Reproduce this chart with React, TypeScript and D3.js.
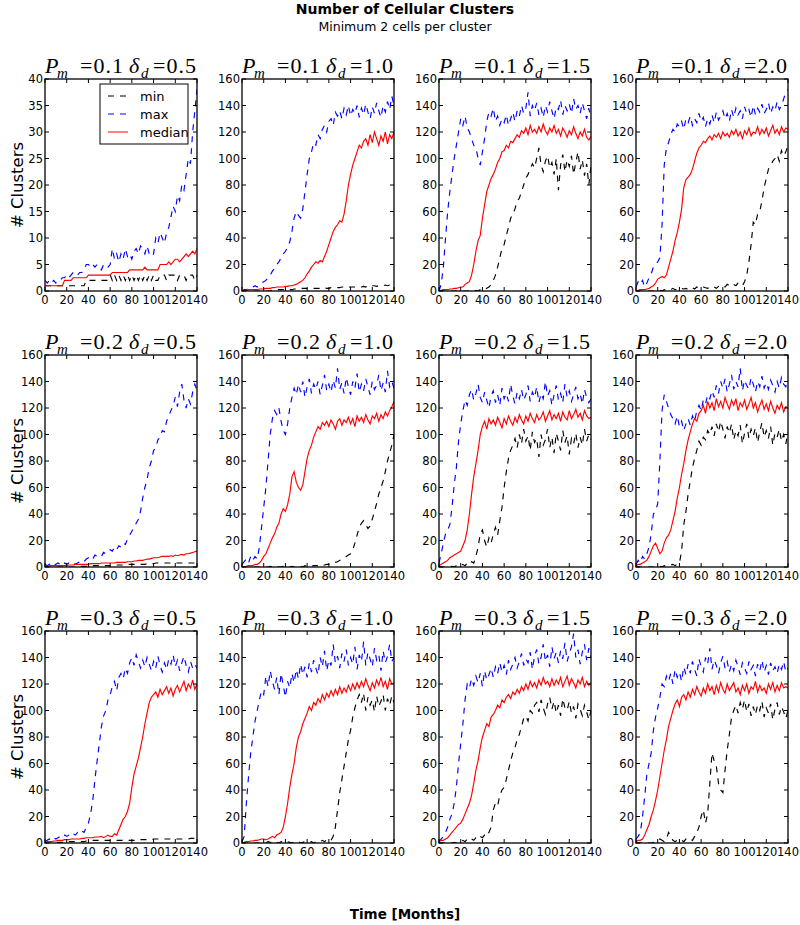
import React from 'react';
import * as d3 from 'd3';

// sampling grid: months 0..140 every 2 months (71 samples)
const months = d3.range(0, 141, 2);

const xTickValues = [0, 20, 40, 60, 80, 100, 120, 140];
const pmLabels = ['0.1', '0.2', '0.3'];
const ddLabels = ['0.5', '1.0', '1.5', '2.0'];
const seriesNames = ['min', 'max', 'median'];

// ---------- P_m = 0.1 ----------
const min_01_05 = [1,1,1,1,1, 1,1,1,1,1, 1,1,1,1,1, 1,1,1,1,2, 2,2,2,2,2, 2,2,2,2,2, 3,2,3,2,3, 2,3,2,3,2, 3,2,3,2,3, 2,3,2,3,2, 3,2,2,3,3, 3,2,3,3,3, 3,2,3,3,3, 2,3,3,3,2, 3];
const max_01_05 = [2,1.5,2,1.5,2, 1.5,2,2,2.5,2.5, 3,2.5,3,3.5,3.5, 3,3.5,3.5,4,5, 5,4.5,5,4.5,5, 4.5,4,5,4.5,4.5, 5,8,6,7,5.5, 7,6,8,6.5,7, 6,7.5,8,7,8.5, 8,7,8.5,7,6.5, 7,10,9,11,10, 9,11,12,14,16, 15,18,17,20,19, 22,25,24,30,34, 38];
const med_01_05 = [1,1,1,1,1, 1,1,1,1,2, 2,2,2,2.5,2.5, 2.5,2.5,2.5,2.5,2.5, 3,3,3,3,3, 3,3,3,3,3, 3,3.5,3.5,3.5,3.5, 3.5,3.5,3.5,3.5,4, 4,4,4,4,4, 4,4.5,4,4,4, 4,4,4,5,5, 5,5,5.5,5,5.5, 6,6,5.5,6,6.5, 7,6.5,7,7.5,7, 8];

const min_01_10 = [0,0,0,0,0, 0,0,0,0,0, 0,0,0,0,0.5, 0.5,1,1,1,1, 1,1,1,1,1.5, 1.5,2,2,2,2, 2,2,2,2,2, 2,2,2,2.5,2, 2,2.5,2.5,2.5,2.5, 2.5,3,3,2.5,3, 3,3,3,3,3, 3,3.5,3,4,3.5, 4,4,3.5,4,4, 4,4.5,4,4.5,5, 5];
const max_01_10 = [0,1,1,2,2, 3,4,3,5,6, 7,8,10,12,15, 17,20,22,25,28, 30,33,37,45,55, 60,57,55,62,75, 88,100,105,112,110, 118,115,122,125,120, 128,130,125,135,132, 136,130,138,133,140, 132,137,134,140,131, 138,133,141,135,130, 139,134,142,136,131, 140,135,143,137,147, 140];
const med_01_10 = [0,0,0.5,1,1, 1,1,1,1.5,1.5, 1.5,2,2,2,2.5, 2.5,3,3,3,3, 3.5,3.5,4,4,4.5, 5,6,7,8,10, 13,15,18,20,22, 21,23,22,26,30, 35,40,45,48,50, 53,52,58,68,80, 88,95,100,105,110, 108,113,115,110,118, 112,120,115,110,117, 113,120,111,118,115, 120];

const min_01_15 = [0,0,0,0,0, 0,0,0,0,0, 0,0,0,0,0, 0,0,0.5,0,1, 0.5,1,2,3,5, 8,12,18,25,32, 35,42,48,55,58, 62,68,70,75,80, 85,88,92,96,93, 100,108,95,90,98, 102,93,97,88,100, 76,95,103,90,99, 94,102,88,97,105, 92,99,87,96,80, 95];
const max_01_15 = [0,5,18,40,60, 75,88,100,110,120, 130,125,132,123,120, 115,110,108,100,95, 105,115,128,135,132, 138,128,132,125,130, 127,133,125,130,135, 128,136,132,140,134, 138,150,132,140,136, 142,133,138,131,140, 135,143,136,130,139, 137,144,133,140,136, 141,134,145,137,140, 134,142,136,130,138, 130];
const med_01_15 = [0,0.5,1,1,1, 1.5,1.5,2,2,2.5, 3,3,5,6,7, 12,20,30,38,42, 55,65,75,80,85, 88,92,97,100,105, 106,110,108,113,112, 115,118,116,121,119, 123,118,125,120,122, 119,124,120,126,121, 118,123,120,125,119, 122,117,123,120,116, 121,118,124,119,115, 120,117,122,116,114, 117];

const min_01_20 = [0,0,0,0,0, 0,0,0,0,0, 0,0.5,0,1,0.5, 1,1,2,1,1.5, 1,2,1.5,2,1, 2,2.5,1.5,3,2, 2,3,2.5,2,3, 2.5,3,2,3.5,3, 4,3,5,4,3.5, 5,4,6,5,4, 7,12,22,35,52, 50,58,60,68,78, 85,92,95,98,100, 103,98,106,102,105, 110];
const max_01_20 = [3,7,5,8,3, 6,10,13,18,20, 22,25,50,95,108, 112,118,122,120,126, 124,128,122,130,127, 132,125,130,127,134, 128,131,124,130,126, 133,127,135,129,132, 136,130,134,128,137, 131,138,133,136,130, 139,134,137,131,140, 133,138,135,141,134, 137,142,134,139,136, 143,137,140,145,150, 152];
const med_01_20 = [0,0.5,1,1,1, 1.5,2,3,4,6, 9,10,11,10,12, 18,24,30,38,44, 52,62,78,84,86, 88,92,98,104,108, 110,113,112,115,117, 114,118,116,119,115, 120,117,119,116,121, 118,122,117,120,115, 121,118,123,117,120, 119,124,118,122,119, 123,117,121,125,119, 122,118,124,120,123, 122];

// ---------- P_m = 0.2 ----------
const min_02_05 = [0,0,0,0,0, 0,0,0,0,0, 0,0,0,0,0, 0,0,0.5,0.5,0.5, 1,1,1,1,1, 1,1,1,1,1, 1,1.5,1.5,1.5,1.5, 1.5,1.5,2,2,2, 2,2,2,2,2, 2,2,2.5,2.5,2.5, 2.5,3,3,3,3, 3,3,3,3,3, 3,3,3,3,3, 3,3,3,3,3, 3];
const max_02_05 = [2,1,2,3,1, 2,3,2,1,3, 2,3,2,3,2, 3,4,3,4,6, 7,8,6,9,8, 9,8,11,10,12, 13,12,15,13,16, 15,18,17,21,24, 27,30,33,36,42, 52,60,66,75,80, 88,90,96,98,103, 102,110,114,118,122, 128,121,132,138,126, 120,127,123,132,138, 133];
const med_02_05 = [0.5,0.5,1,1,1, 1,1,1,1,1, 1,1.5,1.5,1.5,2, 2,2,2,2,2, 2,2.5,2.5,2.5,2.5, 2.5,3,3,3,3, 3,3,3,3.5,3.5, 3.5,3.5,3.5,4,4, 4,4.5,4.5,5,5, 5,5.5,6,6,6.5, 7,7,7,7.5,8, 8,8,8,8.5,8, 9,8.5,9,9.5,9, 10,10,10.5,11,11.5, 12];

const min_02_10 = [0,0,0,0,0, 0,0,0,0,0, 0,0,0,0.5,0, 0,0.5,0,0,0.5, 0,0.5,0,0.5,0, 0.5,0,0.5,0,1, 0.5,1,0.5,1,1, 1,1.5,1,1.5,2, 2,2.5,3,3.5,4, 5,6,7,8,9, 10,13,18,24,30, 33,35,32,29,31, 36,42,48,55,60, 65,72,80,86,92, 100];
const max_02_10 = [2,4,6,3,8, 5,8,6,15,30, 45,60,80,100,112, 118,115,120,110,103, 100,108,120,128,135, 130,138,132,140,128, 136,142,131,138,134, 140,130,137,145,133, 138,132,141,135,150, 134,139,131,143,136, 130,140,135,146,132, 138,133,142,136,130, 140,134,137,145,133, 139,132,148,136,140, 135];
const med_02_10 = [0,0,0.5,1,1, 1,2,2,3,5, 8,10,14,18,22, 25,30,33,40,44, 42,47,55,68,72, 64,60,58,62,72, 82,88,92,98,102, 106,104,109,107,110, 106,111,108,104,110, 112,107,111,109,113, 108,112,106,114,110, 113,109,115,111,108, 114,112,116,110,115, 112,117,114,118,121, 125];

const min_02_15 = [0,0,0,0,0, 0,0.5,0,1,0.5, 1,2,1,3,2, 4,3,8,15,25, 28,20,15,22,18, 25,30,24,35,45, 60,72,82,88,92, 97,90,100,93,104, 95,99,88,102,94, 97,83,100,92,96, 104,90,98,86,101, 95,88,103,94,99, 85,97,93,101,90, 98,92,104,95,100, 96];
const max_02_15 = [3,10,18,25,28, 32,45,62,75,95, 108,118,126,122,130, 134,126,131,138,128, 124,132,126,120,129, 133,124,130,122,135, 127,131,125,138,129, 123,132,127,134,126, 130,137,125,132,128, 136,124,131,127,140, 129,133,122,130,137, 126,131,124,138,128, 133,125,130,136,127, 131,123,134,128,124, 127];
const med_02_15 = [1,2,3,4,5, 7,8,9,10,11, 12,16,20,28,40, 55,68,78,88,100, 106,110,104,112,108, 111,107,113,109,105, 112,108,114,110,107, 113,109,115,111,108, 114,110,116,112,109, 115,111,113,117,110, 114,118,111,115,112, 116,110,117,113,111, 118,112,115,119,113, 116,111,118,114,112, 113];

const min_02_20 = [0,0,0,0,0, 0,0,0,0,0, 0,0.5,0,1,0.5, 1,1.5,2,1,2, 3,12,32,42,55, 65,75,82,88,95, 92,98,96,103,100, 106,99,108,102,110, 104,97,106,101,108, 96,103,99,107,93, 101,108,97,104,99, 105,94,102,109,98, 103,97,106,92,101, 98,104,95,100,93, 102];
const max_02_20 = [2,5,3,8,6, 10,15,25,40,42, 48,80,118,130,125, 120,115,112,108,114, 106,110,103,108,112, 107,114,110,118,122, 118,126,123,130,127, 133,128,137,131,140, 135,142,132,138,145, 134,140,136,150,133, 141,137,134,143,138, 132,140,136,144,135, 139,134,141,137,132, 140,135,143,138,136, 141];
const med_02_20 = [1,2,2,3,4, 5,8,12,16,18, 14,10,12,18,22, 24,28,35,42,52, 60,70,78,88,96, 102,108,112,110,116, 118,122,116,125,120, 124,118,127,121,125, 120,128,123,119,126, 122,127,118,124,121, 126,119,123,128,120, 124,117,122,126,119, 123,118,125,120,116, 122,119,124,117,121, 120];

// ---------- P_m = 0.3 ----------
const min_03_05 = [0,0,0,0,0, 0,0.5,0.5,0.5,1, 1,1,1,1,1, 1,1,1,1,1.5, 2,2,2,2,2, 2,2,2,2,2, 2,2,2,2,2, 2,2,2,2,2, 2,2,2,2,2.5, 2.5,2.5,2.5,2.5,2.5, 3,3,3,3,3, 3,3,3,3,3, 3,3,3,3,3, 3,3,3.5,3.5,3.5, 4];
const max_03_05 = [1,2,3,2,4, 3,4,5,4,6, 5,6,5,7,6, 8,7,9,8,12, 15,22,32,48,62, 75,88,96,100,108, 112,118,122,115,125, 128,124,132,128,136, 140,134,142,137,132, 138,133,140,135,130, 137,132,141,134,129, 136,131,139,135,142, 133,138,130,136,141, 134,129,137,132,135, 132];
const med_03_05 = [0,1,1,1,1.5, 1.5,2,2,2,2.5, 2.5,2.5,3,3,3, 3,3,3.5,3.5,4, 4,4,4,4.5,4.5, 4.5,5,4,5,6, 5,5,7,6,10, 14,18,20,24,30, 42,52,58,64,72, 80,90,98,106,110, 112,114,110,116,112, 115,118,113,117,111, 116,119,114,118,122, 115,120,117,123,116, 120];

const min_03_10 = [0,0,0,0,0, 0,0,0,0,0, 0.5,0,1,0.5,0, 1,0.5,0,1,0.5, 0,1,0.5,0,1, 0.5,1,0,0.5,1, 1,0.5,1,0,1, 1.5,1,2,1,2.5, 3,2,5,12,25, 38,48,58,68,78, 85,95,102,108,112, 106,113,100,110,104, 108,99,111,103,107, 112,100,109,104,111, 106];
const max_03_10 = [1,5,30,50,68, 80,92,100,108,115, 112,126,118,130,122, 116,125,112,128,119, 110,122,117,128,121, 131,124,135,127,133, 125,136,129,138,132, 127,140,133,145,130, 138,134,150,136,141, 132,143,137,146,134, 140,135,148,131,142, 137,152,134,144,139, 133,147,138,142,130, 145,136,141,150,137, 140];
const med_03_10 = [0,0.5,1,1,1.5, 1.5,2,2,2.5,3, 3,2.5,3,4,5, 4,6,7,8,12, 20,30,42,52,60, 72,80,84,90,94, 98,103,100,106,104, 109,106,112,108,113, 110,115,111,116,112, 118,113,117,114,119, 115,120,116,121,117, 122,118,124,119,115, 121,117,123,119,125, 118,122,116,124,120, 121];

const min_03_15 = [0,0,0,0,0, 0,0,0.5,0,1, 1,2,1,3,2, 3,2,4,3,5, 4,6,5,8,12, 25,30,28,36,40, 42,48,55,62,68, 72,78,82,88,94, 96,92,100,98,104, 106,99,108,102,97, 105,110,101,107,98, 104,96,109,102,100, 107,98,103,94,105, 101,96,104,99,93, 100];
const max_03_15 = [1,3,5,8,12, 18,22,30,42,60, 75,90,108,120,117, 124,119,126,121,128, 118,130,123,127,132, 125,133,128,136,129, 134,127,138,131,135, 140,132,137,143,134, 139,136,144,131,141, 146,135,140,150,137, 142,133,148,139,144, 136,145,139,151,137, 143,148,158,140,146, 135,144,150,138,147, 140];
const med_03_15 = [1,2,2,3,4, 6,8,10,12,14, 15,18,22,26,30, 36,45,55,62,72, 80,85,90,88,95, 97,100,104,102,108, 106,110,112,109,114, 112,116,113,118,115, 120,116,122,118,121, 117,123,119,125,120, 122,118,124,119,123, 120,125,118,122,126, 119,124,121,117,123, 120,125,118,122,119, 121];

const min_03_20 = [0,0,0,0,0, 0,0,0,0.5,1, 2,3,2,1,3, 8,5,2,1,2, 1,2,1,3,2, 3,2,5,8,12, 20,25,15,22,45, 68,62,58,45,40, 38,55,70,82,95, 100,104,98,106,101, 108,99,105,96,103, 97,104,100,107,95, 102,98,105,93,101, 106,97,103,99,94, 100];
const max_03_20 = [3,5,8,20,35, 52,60,68,85,95, 102,110,120,118,126, 122,128,120,131,125, 129,122,133,127,135, 128,137,131,126,139, 133,129,140,135,147, 131,138,134,128,136, 141,132,137,129,135, 130,138,133,127,136, 132,128,137,131,134, 126,135,130,138,129, 134,127,136,130,133, 128,135,131,137,129, 132];
const med_03_20 = [1,2,2,3,6, 10,14,20,25,32, 40,50,60,70,78, 88,94,100,105,108, 103,110,112,108,114, 110,116,112,118,114, 111,117,113,120,115, 118,112,119,114,121, 116,113,120,115,118, 121,114,117,112,119, 115,120,113,118,116, 122,114,119,115,117, 113,120,116,121,114, 119,115,121,117,118, 117];

const minSeries = [
  [min_01_05, min_01_10, min_01_15, min_01_20],
  [min_02_05, min_02_10, min_02_15, min_02_20],
  [min_03_05, min_03_10, min_03_15, min_03_20],
];
const maxSeries = [
  [max_01_05, max_01_10, max_01_15, max_01_20],
  [max_02_05, max_02_10, max_02_15, max_02_20],
  [max_03_05, max_03_10, max_03_15, max_03_20],
];
const medSeries = [
  [med_01_05, med_01_10, med_01_15, med_01_20],
  [med_02_05, med_02_10, med_02_15, med_02_20],
  [med_03_05, med_03_10, med_03_15, med_03_20],
];
const yMaxes = [
  [40, 160, 160, 160],
  [160, 160, 160, 160],
  [160, 160, 160, 160],
];

// ---------- layout ----------
const COL_LEFT = [45, 242, 439, 636];
const ROW_TOP = [79, 355, 631];
const PW = 152;
const PH = 212;
const SANS = 'DejaVu Sans, sans-serif';
const SERIF = 'Liberation Serif, DejaVu Serif, serif';

const STYLES: Record<string, { color: string; dash?: string }> = {
  min: { color: '#000000', dash: '6,6' },
  max: { color: '#0000ff', dash: '6,6' },
  median: { color: '#ff0000' },
};

function Panel({ r, c }: { r: number; c: number }) {
  const left = COL_LEFT[c];
  const top = ROW_TOP[r];
  const x = d3.scaleLinear().domain([0, 140]).range([left, left + PW]);
  const y = d3.scaleLinear().domain([0, yMaxes[r][c]]).range([top + PH, top]);
  const line = d3
    .line<number>()
    .x((_, i) => x(months[i]))
    .y((d) => y(d));
  const yTicks = y.ticks(8);
  const clipId = `clip-${r}-${c}`;
  const data: Record<string, number[]> = {
    min: minSeries[r][c],
    max: maxSeries[r][c],
    median: medSeries[r][c],
  };
  const ty = top - 6;
  return (
    <g>
      <defs>
        <clipPath id={clipId}>
          <rect x={left} y={top} width={PW} height={PH} />
        </clipPath>
      </defs>
      <g clipPath={`url(#${clipId})`}>
        {seriesNames.map((s) => (
          <path
            key={s}
            d={line(data[s]) || ''}
            fill="none"
            stroke={STYLES[s].color}
            strokeWidth={1.15}
            strokeDasharray={STYLES[s].dash}
          />
        ))}
      </g>
      {xTickValues.map((t) => (
        <g key={'x' + t}>
          <line x1={x(t)} x2={x(t)} y1={top + PH} y2={top + PH - 4} stroke="#000" strokeWidth={1} />
          <line x1={x(t)} x2={x(t)} y1={top} y2={top + 4} stroke="#000" strokeWidth={1} />
          <text x={x(t)} y={top + PH + 13} textAnchor="middle" fontFamily={SANS} fontSize={11.5} fill="#000">
            {t}
          </text>
        </g>
      ))}
      {yTicks.map((t) => (
        <g key={'y' + t}>
          <line x1={left} x2={left + 4} y1={y(t)} y2={y(t)} stroke="#000" strokeWidth={1} />
          <line x1={left + PW} x2={left + PW - 4} y1={y(t)} y2={y(t)} stroke="#000" strokeWidth={1} />
          <text x={left - 2} y={y(t) + 4} textAnchor="end" fontFamily={SANS} fontSize={11.5} fill="#000">
            {t}
          </text>
        </g>
      ))}
      <rect x={left} y={top} width={PW} height={PH} fill="none" stroke="#000" strokeWidth={1.3} />
      {/* panel title: P_m =v  δ_d =v */}
      <g fontFamily={SERIF} fill="#000">
        <text x={left} y={ty} fontSize={22} fontStyle="italic">P</text>
        <text x={left + 12} y={ty + 5} fontSize={15} fontStyle="italic">m</text>
        <text x={left + 35} y={ty} fontSize={22} letterSpacing={1}>{'=' + pmLabels[r]}</text>
        <text x={left + 84} y={ty} fontSize={22} fontStyle="italic">δ</text>
        <text x={left + 96} y={ty + 5} fontSize={15} fontStyle="italic">d</text>
        <text x={left + 108} y={ty} fontSize={22} letterSpacing={1}>{'=' + ddLabels[c]}</text>
      </g>
    </g>
  );
}

function Legend() {
  const lx = 100;
  const ly = 84;
  return (
    <g>
      <rect x={lx} y={ly} width={88} height={60} fill="#fff" stroke="#000" strokeWidth={1} />
      {seriesNames.map((s, i) => {
        const cy = ly + 12 + i * 18;
        return (
          <g key={s}>
            <line
              x1={lx + 8}
              x2={lx + 28}
              y1={cy}
              y2={cy}
              stroke={STYLES[s].color}
              strokeWidth={1}
              strokeDasharray={STYLES[s].dash}
            />
            <text x={lx + 40} y={cy + 4.5} fontFamily={SANS} fontSize={13} fill="#000">
              {s}
            </text>
          </g>
        );
      })}
    </g>
  );
}

export default function App() {
  return (
    <svg
      width={800}
      height={925}
      viewBox="0 0 800 925"
      style={{ position: 'absolute', left: 0, top: 0, background: '#fff' }}
    >
      <rect x={0} y={0} width={800} height={925} fill="#fff" />
      <text x={405} y={14} textAnchor="middle" fontFamily={SANS} fontWeight="bold" fontSize={14} fill="#000">
        Number of Cellular Clusters
      </text>
      <text x={405} y={31} textAnchor="middle" fontFamily={SANS} fontSize={12.5} fill="#000">
        Minimum 2 cells per cluster
      </text>
      {[0, 1, 2].map((r) =>
        [0, 1, 2, 3].map((c) => <Panel key={`${r}-${c}`} r={r} c={c} />)
      )}
      <Legend />
      {[0, 1, 2].map((r) => (
        <text
          key={'yl' + r}
          transform={`translate(23, ${ROW_TOP[r] + PH / 2}) rotate(-90)`}
          textAnchor="middle"
          fontFamily={SANS}
          fontSize={16.5}
          fill="#000"
        >
          # Clusters
        </text>
      ))}
      <text x={405} y={919} textAnchor="middle" fontFamily={SANS} fontWeight="bold" fontSize={13.5} fill="#000">
        Time [Months]
      </text>
    </svg>
  );
}
